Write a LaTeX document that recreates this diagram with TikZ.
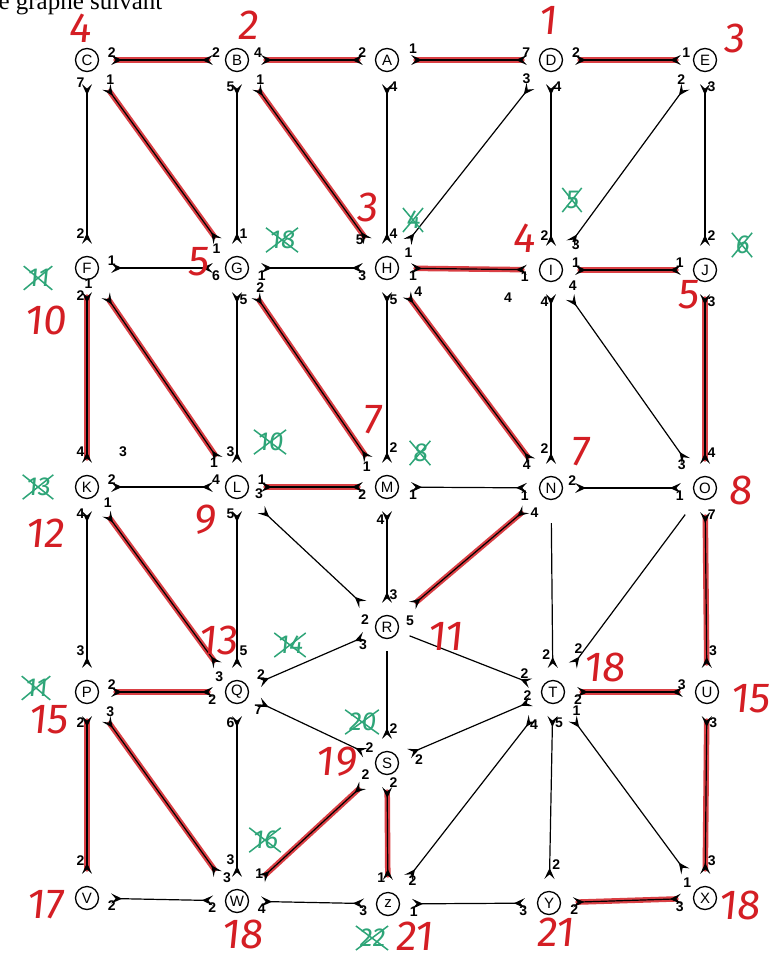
\documentclass[tikz,border=0pt]{standalone}
\usepackage{fontspec}
\setmainfont{Liberation Serif}
\setsansfont{Liberation Sans}
\newfontfamily\handfont[FakeSlant=0.1]{Fira Sans}
\usetikzlibrary{arrows.meta}
\definecolor{hred}{RGB}{212,30,36}
\definecolor{hgreen}{RGB}{46,165,120}
\tikzset{fl/.tip={Stealth[reversed,length=11pt,width=10pt,inset=4.5pt]}}
\newcommand\gx[3]{\node[gn] (#1) at (#2) {#3};
  \draw[gl] ([shift={(-3pt,-3pt)}]#1.south west) -- ([shift={(3pt,3pt)}]#1.north east)
            ([shift={(-3pt,3pt)}]#1.north west) -- ([shift={(3pt,-3pt)}]#1.south east);}
\begin{document}
\begin{tikzpicture}[x=1pt,y=-1pt,
  v/.style={circle,draw,line width=1.3pt,minimum size=23pt,inner sep=0pt,font=\sffamily\fontsize{15}{15}\selectfont},
  e/.style={line width=1.2pt,arrows={fl-fl},shorten <=12pt,shorten >=12pt},
  dg/.style={shorten <=21pt,shorten >=21pt},
  w/.style={font=\sffamily\bfseries\fontsize{14}{14}\selectfont,inner sep=2pt},
  hl/.style={hred,line width=5.5pt,line cap=round,opacity=.85,shorten <=17pt,shorten >=17pt},
  hld/.style={shorten <=27pt,shorten >=27pt},
  rn/.style={text=hred,font=\handfont\fontsize{42}{42}\selectfont,inner sep=0pt},
  gn/.style={text=hgreen,font=\handfont\fontsize{26}{26}\selectfont,inner sep=0pt},
  gl/.style={hgreen,line width=1.5pt}]
\fill[white] (0,0) rectangle (777,955);
\useasboundingbox (0,0) rectangle (777,955);
\node[anchor=base west,font=\fontsize{25}{25}\selectfont] (title) at (-5,10) {e graphe suivant};
% vertices
\node[v] (C) at (87,60) {C};
\node[v] (B) at (237,60) {B};
\node[v] (A) at (387,60) {A};
\node[v] (D) at (551,60) {D};
\node[v] (E) at (705,60) {E};
\node[v] (F) at (87,268) {F};
\node[v] (G) at (237,268) {G};
\node[v] (H) at (387,268) {H};
\node[v] (I) at (551,270) {I};
\node[v] (J) at (705,270) {J};
\node[v] (K) at (87,487) {K};
\node[v] (L) at (237,487) {L};
\node[v] (M) at (387,487) {M};
\node[v] (N) at (551,488) {N};
\node[v] (O) at (705,488) {O};
\node[v] (R) at (387,627) {R};
\node[v] (P) at (87,692) {P};
\node[v] (Q) at (237,692) {Q};
\node[v] (T) at (553,692) {T};
\node[v] (U) at (707,692) {U};
\node[v] (S) at (387,763) {S};
\node[v] (V) at (87,898) {V};
\node[v] (W) at (237,901) {W};
\node[v] (Z) at (388,904) {z};
\node[v] (Y) at (549,903) {Y};
\node[v] (X) at (705,898) {X};
% red highlights
\foreach \a/\b in {C/B,B/A,A/D,D/E,H/I,I/J,L/M,P/Q,T/U,Y/X,F/K,J/O,O/U,P/V,S/Z,U/X}
  \draw[hl] (\a) -- (\b);
\foreach \a/\b in {C/G,B/H,F/L,G/M,H/N,K/Q,N/R,P/W,S/W}
  \draw[hl,hld] (\a) -- (\b);
% edges row 1
\draw[e] (C) -- node[w,pos=.1,above]{2} node[w,pos=.93,above]{2} (B);
\draw[e] (B) -- node[w,pos=.07,above]{4} node[w,pos=.9,above]{2} (A);
\draw[e] (A) -- node[w,pos=.1,above=4pt]{1} node[w,pos=.91,above]{7} (D);
\draw[e] (D) -- node[w,pos=.1,above]{2} node[w,pos=.95,above]{1} (E);
% row 1 to row 2
\draw[e] (C) -- node[w,pos=.06,left]{7} node[w,pos=.88,left]{2} (F);
\draw[e,dg] (C) -- node[w,pos=.05,right=3pt]{1} node[w,pos=.95,left]{1} (G);
\draw[e] (B) -- node[w,pos=.08,left]{5} node[w,pos=.88,right]{1} (G);
\draw[e,dg] (B) -- node[w,pos=.05,right=3pt]{1} node[w,pos=.9,left]{5} (H);
\draw[e] (A) -- node[w,pos=.08,right]{4} node[w,pos=.88,right]{4} (H);
\draw[e,dg] (D) -- node[w,pos=.05,left=3pt]{3} node[w,pos=.97,right=3pt]{1} (H);
\draw[e] (D) -- node[w,pos=.08,right]{4} node[w,pos=.88,left]{2} (I);
\draw[e,dg] (E) -- node[w,pos=.05,left=3pt]{2} node[w,pos=.92,right]{3} (I);
\draw[e] (E) -- node[w,pos=.08,right]{3} node[w,pos=.88,right]{2} (J);
% row 2
\draw[e] (F) -- node[w,pos=.1,above]{1} node[w,pos=.93,below]{6} (G);
\draw[e] (G) -- node[w,pos=.1,below]{1} node[w,pos=.9,below]{3} (H);
\draw[e] (H) -- node[w,pos=.1,below]{1} node[w,pos=.9,below]{1} (I);
\draw[e] (I) -- node[w,pos=.1,above]{1} node[w,pos=.9,above]{1} (J);
% row 2 to row 3
\draw[e] (F) -- node[w,pos=.08,left]{2} node[w,pos=.88,left]{4} (K);
\draw[e,dg] (F) -- node[w,pos=.03,left=3pt]{1} node[w,pos=.93,left]{1} (L);
\draw[e] (G) -- node[w,pos=.1,right]{5} node[w,pos=.88,left]{3} (L);
\draw[e,dg] (G) -- node[w,pos=.05,right=3pt]{2} node[w,pos=.95,left]{1} (M);
\draw[e] (H) -- node[w,pos=.1,right]{5} node[w,pos=.86,right]{2} (M);
\draw[e,dg] (H) -- node[w,pos=.07,right=7pt]{4} node[w,pos=.93,left]{4} (N);
\draw[e] (I) -- node[w,pos=.1,left]{4} node[w,pos=.86,left]{2} (N);
\draw[e,dg] (I) -- node[w,pos=.03,right=4pt]{4} node[w,pos=.93,left]{3} (O);
\draw[e] (J) -- node[w,pos=.1,right]{3} node[w,pos=.88,right]{4} (O);
% row 3
\draw[e] (K) -- node[w,pos=.1,above]{2} node[w,pos=.93,above]{4} (L);
\draw[e] (L) -- node[w,pos=.1,above]{1} node[w,pos=.9,below]{2} (M);
\draw[e] (M) -- node[w,pos=.1,below]{1} node[w,pos=.9,below]{1} (N);
\draw[e] (N) -- node[w,pos=.07,above]{2} node[w,pos=.9,below]{1} (O);
% row 3 downwards
\draw[e] (K) -- node[w,pos=.08,left]{4} node[w,pos=.84,left]{3} (P);
\draw[e,dg] (K) -- node[w,pos=.03,right=3pt]{1} node[w,pos=.97,left]{3} (Q);
\draw[e] (L) -- node[w,pos=.08,left]{5} node[w,pos=.84,right]{5} (Q);
\draw[e,dg] (L) -- node[w,pos=.05,above right]{3} node[w,pos=.95,below left]{2} (R);
\draw[e] (M) -- node[w,pos=.18,left]{4} node[w,pos=.83,right]{3} (R);
\draw[e,dg] (N) -- node[w,pos=.05,below=3pt]{4} node[w,pos=.95,below right]{5} (R);
\draw[e,arrows={-fl},shorten <=23pt] (N) -- node[w,pos=.86,left]{2} (T);
\draw[e,dg,arrows={-fl}] (O) -- node[w,pos=.82,left]{2} (T);
\draw[e] (O) -- node[w,pos=.08,right]{7} node[w,pos=.84,right]{3} (U);
% around R
\draw[e] (R) -- node[w,pos=.1,below]{3} node[w,pos=.9,above]{2} (Q);
\draw[e,arrows={-fl}] (R) -- node[w,pos=.88,above]{2} (T);
\draw[e,arrows={-fl}] (R) -- node[w,pos=.8,right]{2} (S);
% row 4
\draw[e] (P) -- node[w,pos=.1,above]{2} node[w,pos=.9,below]{2} (Q);
\draw[e] (T) -- node[w,pos=.1,below]{2} node[w,pos=.9,above]{3} (U);
\draw[e] (Q) -- node[w,pos=.08,below]{7} node[w,pos=.95,above]{2} (S);
\draw[e] (S) -- node[w,pos=.1,below right]{2} node[w,pos=.9,above]{2} (T);
% row 4 to row 5
\draw[e] (P) -- node[w,pos=.1,left]{2} node[w,pos=.86,left]{2} (V);
\draw[e,dg] (P) -- node[w,pos=.05,right=3pt]{3} node[w,pos=.93,right]{3} (W);
\draw[e] (Q) -- node[w,pos=.1,left]{6} node[w,pos=.84,left]{3} (W);
\draw[e,dg] (S) -- node[w,pos=.03,left=2pt]{2} node[w,pos=.9,above]{1} (W);
\draw[e] (S) -- node[w,pos=.06,right]{2} node[w,pos=.88,left]{1} (Z);
\draw[e,dg] (T) -- node[w,pos=.12,right]{4} node[w,pos=.93,right]{2} (Z);
\draw[e] (T) -- node[w,pos=.1,right]{5} node[w,pos=.86,right]{2} (Y);
\draw[e,dg] (T) -- node[w,pos=.05,right=3pt]{1} node[w,pos=.97,left]{1} (X);
\draw[e] (U) -- node[w,pos=.1,right]{3} node[w,pos=.86,right]{3} (X);
% row 5
\draw[e] (V) -- node[w,pos=.1,below]{2} node[w,pos=.9,below]{2} (W);
\draw[e] (W) -- node[w,pos=.1,below]{4} node[w,pos=.9,below]{3} (Z);
\draw[e] (Z) -- node[w,pos=.1,below]{1} node[w,pos=.9,below]{3} (Y);
\draw[e] (Y) -- node[w,pos=.1,below]{2} node[w,pos=.9,below]{3} (X);
% stray weights
\node[w] (s1) at (123,452) {3};
\node[w] (s2) at (508,298) {4};
% red handwritten numbers
\node[rn] (rC) at (80,28) {4};
\node[rn] (rB) at (248,25) {2};
\node[rn] (rD) at (548,20) {1};
\node[rn] (rE) at (734,38) {3};
\node[rn] (rH) at (367,207) {3};
\node[rn] (rG) at (198,262) {5};
\node[rn] (rI) at (524,238) {4};
\node[rn] (rJ) at (688,295) {5};
\node[rn] (rF) at (45,320) {10};
\node[rn] (rM) at (372,420) {7};
\node[rn] (rN) at (580,452) {7};
\node[rn] (rO) at (740,490) {8};
\node[rn] (rK) at (45,533) {12};
\node[rn] (rL) at (205,520) {9};
\node[rn] (rQ) at (218,640) {13};
\node[rn] (rR) at (445,636) {11};
\node[rn] (rT) at (604,667) {18};
\node[rn] (rU) at (750,699) {15};
\node[rn] (rP) at (48,720) {15};
\node[rn] (rS) at (336,762) {19};
\node[rn] (rV) at (45,905) {17};
\node[rn] (rW) at (242,934) {18};
\node[rn] (rZ) at (414,936) {21};
\node[rn] (rY) at (555,932) {21};
\node[rn] (rX) at (739,905) {18};
% green crossed-out numbers
\gx{g1}{282,240}{18}
\gx{g2}{413,220}{4}
\gx{g3}{572,200}{5}
\gx{g4}{742,245}{6}
\gx{g5}{38,278}{11}
\gx{g6}{270,442}{10}
\gx{g7}{420,453}{8}
\gx{g8}{38,487}{13}
\gx{g9}{290,645}{14}
\gx{g10}{36,688}{11}
\gx{g11}{362,722}{20}
\gx{g12}{265,840}{16}
\gx{g13}{372,938}{22}
\end{tikzpicture}
\end{document}
